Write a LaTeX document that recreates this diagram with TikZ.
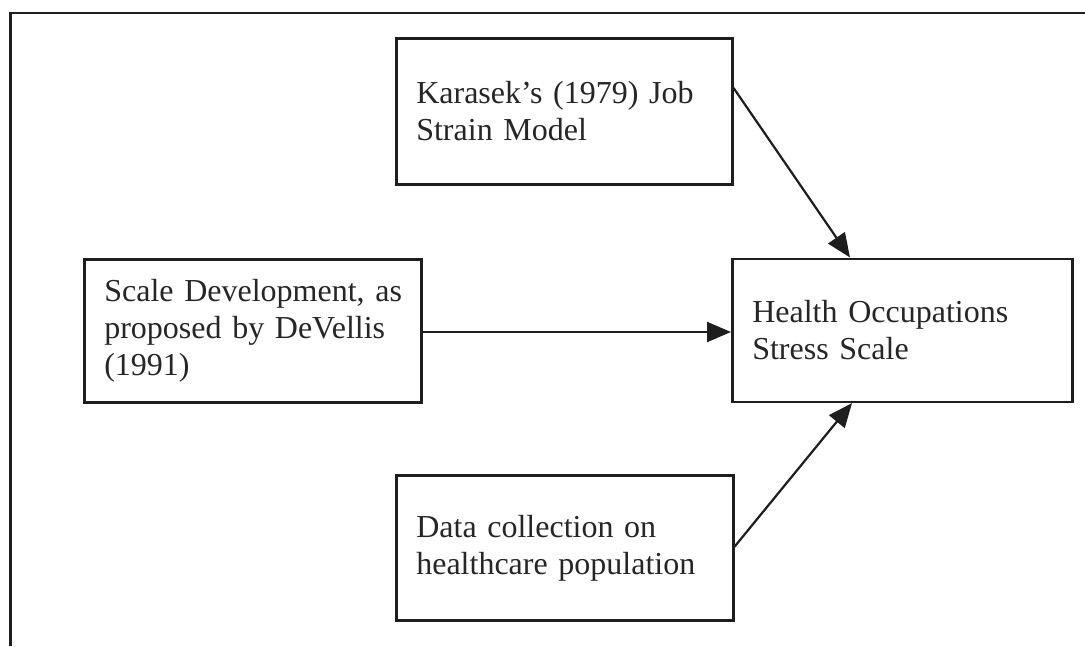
\documentclass[tikz,border=0pt]{standalone}
\usepackage{fontspec}
\setmainfont{Liberation Serif}
\usetikzlibrary{arrows.meta}
\definecolor{ink}{HTML}{1E1E1E}
\definecolor{txt}{HTML}{262626}
\begin{document}
\begin{tikzpicture}[x=1pt,y=-1pt,
  box/.style={draw=ink, line width=2.6pt, rectangle, anchor=north west,
    inner xsep=20pt, inner ysep=0pt, align=left, text=txt,
    font=\fontsize{32}{37}\selectfont},
  conn/.style={draw=ink, line width=2.2pt, -{Triangle[length=24pt,width=20pt]}},
  frame/.style={draw=ink, line width=2.2pt}]
\useasboundingbox (0,0) rectangle (1085,646);
\fill[white] (0,0) rectangle (1085,646);
\coordinate (fa) at (10.5,646);
\coordinate (fb) at (10.5,13);
\coordinate (fc) at (1085,13);
\draw[frame] (fa) -- (fb) -- (fc);

\node[box, minimum width=336pt, minimum height=146pt, text width=296pt] (k) at (395,37)
  {\mbox{Karasek’s (1979) Job}\\\mbox{Strain Model}};
\node[box, minimum width=337pt, minimum height=143pt, text width=297pt] (s) at (83,258)
  {\mbox{Scale Development, as}\\\mbox{proposed by DeVellis}\\\mbox{(1991)}};
\node[box, minimum width=340pt, minimum height=143pt, text width=300pt] (h) at (731,257.5)
  {\mbox{Health Occupations}\\\mbox{Stress Scale}};
\node[box, minimum width=337pt, minimum height=145pt, text width=297pt] (d) at (395,474)
  {\mbox{Data collection on}\\\mbox{healthcare population}};

\draw[conn] ([yshift=-51pt]k.north east) -- ([xshift=119pt]h.north west);
\draw[conn] (s.east |- 0,332) -- (h.west |- 0,332);
\draw[conn] ([yshift=75pt]d.south east) -- ([xshift=121pt]h.south west);
\end{tikzpicture}
\end{document}
